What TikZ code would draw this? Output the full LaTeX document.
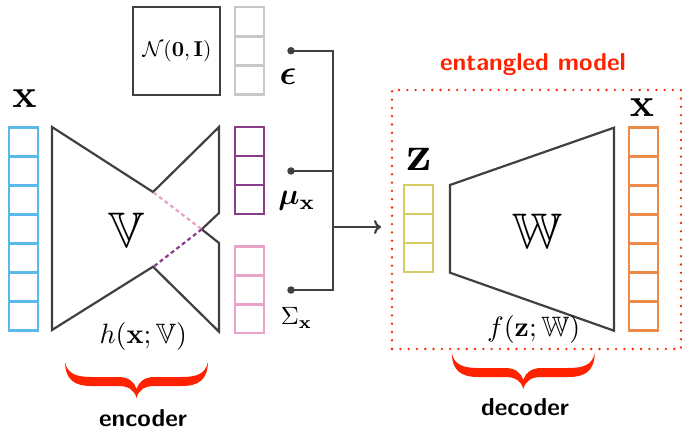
\documentclass[tikz,border=0pt]{standalone}
\usepackage{amsmath,amssymb,bm}
\usetikzlibrary{arrows.meta}
\definecolor{cblue}{HTML}{5BB8E8}
\definecolor{cpurple}{HTML}{883D8A}
\definecolor{cpink}{HTML}{E9A3C9}
\definecolor{cgray}{HTML}{C8C8C8}
\definecolor{cyellow}{HTML}{D5CD63}
\definecolor{corange}{HTML}{EC8A4A}
\definecolor{lgray}{HTML}{404040}
\definecolor{bred}{HTML}{FF2200}
\tikzset{
  vcell/.style={rectangle,draw,line width=2.5pt,minimum width=29pt,minimum height=29pt,inner sep=0pt,outer sep=0pt},
  netshape/.style={draw=lgray,line width=2.2pt,line join=miter},
  conn/.style={draw=lgray,line width=2.2pt},
  jdot/.style={circle,fill=lgray,inner sep=0pt,minimum size=7.5pt},
  lbl/.style={inner sep=0pt,outer sep=0pt},
  sflbl/.style={inner sep=0pt,outer sep=0pt,scale=2.45,font=\sffamily\bfseries},
  redbrace/.pic={
    \fill[bred] (-71.5,0) .. controls (-71,18) and (-62,24) .. (-45,24)
      -- (-18,24) .. controls (-8,24) and (-2,28) .. (0,36)
      .. controls (2,28) and (8,24) .. (18,24) -- (45,24)
      .. controls (62,24) and (71,18) .. (71.5,0)
      .. controls (69,12) and (60,15) .. (45,15) -- (18,15)
      .. controls (8,15) and (2,20) .. (0,27)
      .. controls (-2,20) and (-8,15) .. (-18,15) -- (-45,15)
      .. controls (-60,15) and (-69,12) .. (-71.5,0) -- cycle;
  }
}
\begin{document}
\begin{tikzpicture}[x=1pt,y=-1pt]
\useasboundingbox (0,0) rectangle (682,430);

% input column x
\foreach \i in {1,...,7} {
  \node[vcell,draw=cblue] (xin\i) at (23.5,{127.7+14.5+29*(\i-1)}) {};
}
\node[lbl,scale=4] (xinlab) at (24.5,99) {$\mathbf{x}$};

% encoder
\draw[netshape] (52,127) -- (153,192) -- (219,127) -- (219,213) -- (201.7,229.3)
  -- (219,243) -- (219,331.7) -- (153,266.7) -- (52,330) -- cycle;
\coordinate (encup) at (153.5,192.5);
\coordinate (encmid) at (201.7,229.3);
\coordinate (enclo) at (153.5,266.7);
\draw[cpink,line width=2.2pt,dash pattern=on 4pt off 3pt] (encup) -- (encmid);
\draw[cpurple,line width=2.2pt,dash pattern=on 4pt off 3pt] (encmid) -- (enclo);
\node[lbl,scale=5] (vlab) at (127,230.5) {$\mathbb{V}$};
\node[lbl,scale=2.8] (hlab) at (143.3,336.7) {$h(\mathbf{x};\mathbb{V})$};
\pic at (136.5,362) {redbrace};
\node[sflbl] (enclab) at (143,418.5) {encoder};

% noise box
\node[rectangle,draw=lgray,line width=2.2pt,minimum width=87pt,minimum height=88pt,inner sep=0pt] (nbox) at (176.5,51) {};
\node[lbl,scale=2.15] (nlab) at (177,51) {$\mathcal{N}(\mathbf{0},\mathbf{I})$};

% epsilon column
\foreach \i in {1,2,3} {
  \node[vcell,draw=cgray] (eps\i) at (249.5,{7+14.5+29.3*(\i-1)}) {};
}
% mu column
\foreach \i in {1,2,3} {
  \node[vcell,draw=cpurple] (mu\i) at (249.5,{127+14.5+29*(\i-1)}) {};
}
% sigma column
\foreach \i in {1,2,3} {
  \node[vcell,draw=cpink] (sig\i) at (249.5,{246.7+14.4+28.8*(\i-1)}) {};
}

\node[lbl,scale=3.5] (epslab) at (288,77) {$\bm{\epsilon}$};
\node[lbl,scale=3] (mulab) at (297,201) {$\bm{\mu}_{\mathbf{x}}$};
\node[lbl,scale=2.5] (siglab) at (296.5,318) {$\Sigma_{\mathbf{x}}$};

% connectors
\node[jdot] (de) at (291,50.7) {};
\node[jdot] (dm) at (291,171) {};
\node[jdot] (ds) at (291,290) {};
\coordinate (jt) at (333,50.7);
\coordinate (jb) at (333,290);
\coordinate (ja) at (333,227);
\coordinate (aend) at (381,227);
\draw[conn] (de.center) -- (jt) -- (jb) -- (ds.center);
\draw[conn] (dm.center) -- (dm.center -| jt);
\draw[conn,-{To[length=7pt,width=14pt]}] (ja) -- (aend);

% entangled model box
\node[rectangle,draw=bred,line width=2.6pt,line cap=round,dash pattern=on 0pt off 8.3pt,
  minimum width=289pt,minimum height=259pt,inner sep=0pt] (ent) at (536.5,219.5) {};
\node[lbl,text=bred,scale=2.45,font=\sffamily\bfseries] (entlab) at (533,65) {entangled model};

% latent z column
\foreach \i in {1,2,3} {
  \node[vcell,draw=cyellow] (z\i) at (418.3,{185+14.5+29*(\i-1)}) {};
}
\node[lbl,scale=5] (zlab) at (419,159) {$\mathbf{z}$};

% decoder
\draw[netshape] (450,185) -- (614,127.7) -- (614,330.7) -- (450,272.7) -- cycle;
\node[lbl,scale=5] (wlab) at (537,231) {$\mathbb{W}$};
\node[lbl,scale=2.8] (flab) at (533.7,329) {$f(\mathbf{z};\mathbb{W})$};
\pic at (523.3,353) {redbrace};
\node[sflbl] (declab) at (525,407.5) {decoder};

% output column
\foreach \i in {1,...,7} {
  \node[vcell,draw=corange] (xout\i) at (643.5,{127.7+14.5+29*(\i-1)}) {};
}
\node[lbl,scale=4] (xoutlab) at (642,107.5) {$\mathbf{x}$};
\end{tikzpicture}
\end{document}
